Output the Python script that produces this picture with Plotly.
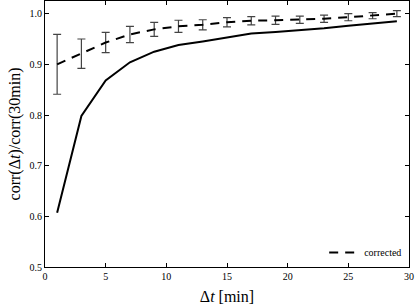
import plotly.graph_objects as go

dt = [1, 3, 5, 7, 9, 11, 13, 15, 17, 19, 21, 23, 25, 27, 29]
raw = [0.607, 0.798, 0.868, 0.904, 0.925, 0.938, 0.945, 0.953, 0.961, 0.964, 0.967, 0.971, 0.976, 0.981, 0.985]
corrected = [0.900, 0.921, 0.943, 0.959, 0.969, 0.975, 0.978, 0.983, 0.986, 0.987, 0.988, 0.990, 0.993, 0.996, 1.000]
err = [0.059, 0.029, 0.020, 0.016, 0.014, 0.012, 0.010, 0.009, 0.008, 0.008, 0.007, 0.007, 0.007, 0.006, 0.006]

fig = go.Figure()
fig.add_trace(go.Scatter(x=dt, y=raw, mode="lines", line=dict(color="black", width=2),
                         showlegend=False))
fig.add_trace(go.Scatter(x=dt, y=corrected, mode="lines", name="corrected",
                         line=dict(color="black", width=2, dash="9px,7px"),
                         error_y=dict(type="data", array=err, visible=True,
                                      color="#444", thickness=1.2, width=4)))

axis_common = dict(showline=True, linecolor="black", linewidth=1, mirror="ticks",
                   ticks="inside", ticklen=4, tickcolor="black", showgrid=False,
                   zeroline=False, automargin=False, ticklabeloverflow="allow",
                   tickfont=dict(family="Liberation Serif", size=10, color="black"))
fig.update_layout(
    width=415, height=307,
    margin=dict(l=45, r=6, t=1, b=40),
    plot_bgcolor="white", paper_bgcolor="white",
    font=dict(family="Liberation Serif", color="black"),
    xaxis=dict(range=[0, 30], tickvals=[0, 5, 10, 15, 20, 25, 30],
               title=dict(text="Δ<i>t</i> [min]", font=dict(size=16), standoff=9), **axis_common),
    yaxis=dict(range=[0.5, 1.025], tickvals=[0.5, 0.6, 0.7, 0.8, 0.9, 1.0],
               tickformat=".1f",
               title=dict(text="corr(Δ<i>t</i>)/corr(30min)", font=dict(size=16), standoff=4), **axis_common),
    legend=dict(x=0.995, y=0.0, xanchor="right", yanchor="bottom",
                bgcolor="rgba(255,255,255,0)", font=dict(size=10, family="Liberation Serif")),
)
fig.write_html("out.html", config={"displayModeBar": False},
               post_script="document.body.style.margin='0';")
